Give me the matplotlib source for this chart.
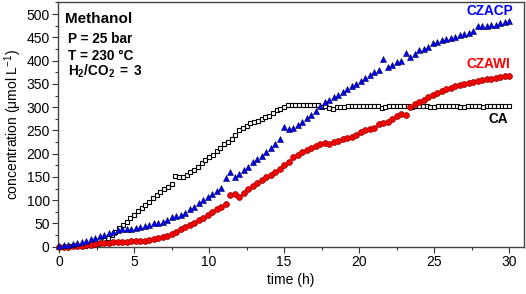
import numpy as np
import matplotlib
matplotlib.use("Agg")
import matplotlib.pyplot as plt
from matplotlib.ticker import MultipleLocator

plt.rcParams['font.family'] = ['Liberation Sans', 'DejaVu Sans']
plt.rcParams['mathtext.fontset'] = 'custom'
plt.rcParams['mathtext.rm'] = 'Liberation Sans'
plt.rcParams['mathtext.it'] = 'Liberation Sans:italic'
plt.rcParams['mathtext.bf'] = 'Liberation Sans:bold'

# CA: samples every 0.25 h
ca_step = 0.25
ca = [0, 0, 0, 1, 1, 1, 2, 2, 3, 4, 6, 9, 14, 19, 25, 31, 40, 46, 53, 61,
      69, 76, 83, 90, 97, 104, 111, 118, 125, 128, 135, 153, 150, 149, 154, 160, 165, 172, 179, 186,
      192, 198, 205, 213, 220, 226, 232, 240, 250, 255, 260, 265, 268, 271, 274, 278, 282, 287, 293, 297,
      301, 304, 305, 305, 304, 304, 304, 305, 305, 304, 300, 302, 298, 297, 300, 300, 301, 302, 302, 303,
      303, 302, 302, 303, 303, 302, 299, 301, 302, 302, 302, 303, 302, 302, 301, 302, 303, 303, 302, 301,
      301, 302, 302, 302, 303, 302, 302, 301, 301, 302, 302, 302, 302, 301, 302, 302, 302, 303, 303, 303,
      303]

# CZACP: samples every 0.3 h
czacp_step = 0.3
czacp = [2, 3, 4, 6, 9, 11, 13, 16, 19, 23, 26, 29, 32, 35, 37, 38, 39, 40, 42, 45,
         47, 50, 52, 54, 58, 63, 66, 69, 73, 80, 86, 93, 100, 107, 114, 120, 126, 147, 161, 149,
         157, 164, 172, 181, 189, 196, 204, 212, 221, 232, 258, 253, 256, 261, 268, 276, 283, 291, 302, 310,
         316, 322, 327, 332, 340, 345, 350, 356, 362, 369, 375, 380, 403, 387, 391, 396, 399, 416, 408, 415,
         422, 426, 430, 437, 441, 444, 447, 449, 451, 455, 458, 460, 464, 474, 475, 475, 476, 477, 480, 482,
         485]

# CZAWI: samples every 0.3 h
czawi_step = 0.3
czawi = [0, 0, 0, 1, 1, 2, 3, 4, 6, 7, 8, 9, 10, 10, 11, 11, 12, 12, 13, 13,
         15, 16, 18, 20, 23, 27, 31, 37, 43, 47, 52, 57, 62, 68, 74, 80, 86, 91, 111, 113,
         106, 116, 124, 130, 137, 143, 149, 155, 161, 168, 175, 183, 192, 198, 203, 208, 213, 217, 220, 222,
         221, 224, 228, 231, 233, 236, 241, 246, 250, 253, 256, 264, 266, 268, 275, 281, 285, 283, 301, 307,
         312, 316, 321, 326, 330, 334, 338, 342, 345, 348, 350, 352, 355, 357, 358, 360, 361, 363, 364, 366,
         367]

t_ca = np.arange(len(ca)) * ca_step
t_czacp = np.arange(len(czacp)) * czacp_step
t_czawi = np.arange(len(czawi)) * czawi_step

W, H = 526, 294
fig = plt.figure(figsize=(W / 100, H / 100), dpi=100)
ax = fig.add_axes([58 / W, 47.3 / H, 466 / W, 244.7 / H])

ax.plot(t_ca, ca, linestyle='none', marker='s', ms=3.4, mfc='white', mec='black', mew=0.8, clip_on=False, zorder=3)
ax.plot(t_czawi, czawi, linestyle='none', marker='o', ms=4.2, mfc='#ff0000', mec='#8b0000', mew=0.5, clip_on=False, zorder=4)
ax.plot(t_czacp, czacp, linestyle='none', marker='^', ms=5.0, mfc='#0000ff', mec='#000033', mew=0.4, clip_on=False, zorder=5)

ax.set_xlim(-0.07, 31.0)
ax.set_ylim(0, 526)
ax.xaxis.set_major_locator(MultipleLocator(5))
ax.xaxis.set_minor_locator(MultipleLocator(2.5))
ax.yaxis.set_major_locator(MultipleLocator(50))
ax.yaxis.set_minor_locator(MultipleLocator(25))
ax.tick_params(which='major', direction='out', length=4, width=0.8, labelsize=10, colors='#333333', labelcolor='black', pad=2)
ax.tick_params(which='minor', direction='out', length=2, width=0.8, colors='#333333')
for s in ax.spines.values():
    s.set_color('#444444')
    s.set_linewidth(1.0)

ax.set_xlabel('time (h)', fontsize=10, labelpad=3)
ax.set_ylabel(r'concentration ($\mathrm{\mu}$mol L$^{-1}$)', fontsize=10, labelpad=2)

tr = ax.transAxes
def px(x, y):
    return ((x - 58) / 466, (246.7 - y) / 244.7)

ax.text(*px(65, 23), 'Methanol', transform=tr, fontsize=11, fontweight='bold', va='baseline', ha='left')
ax.text(*px(68, 43), 'P = 25 bar', transform=tr, fontsize=9.8, fontweight='bold', va='baseline', ha='left')
ax.text(*px(68, 60), 'T = 230 °C', transform=tr, fontsize=9.8, fontweight='bold', va='baseline', ha='left')
ax.text(*px(68, 76), r'$\mathbf{H_2/CO_2\ =\ 3}$', transform=tr, fontsize=9.8, va='baseline', ha='left')

ax.text(*px(513, 15), 'CZACP', transform=tr, fontsize=9.8, fontweight='bold', color='#0000ff', va='baseline', ha='right')
ax.text(*px(510, 68), 'CZAWI', transform=tr, fontsize=9.8, fontweight='bold', color='#ff0000', va='baseline', ha='right')
ax.text(*px(508, 123), 'CA', transform=tr, fontsize=9.8, fontweight='bold', color='black', va='baseline', ha='right')

fig.savefig('out.png', dpi=100)
